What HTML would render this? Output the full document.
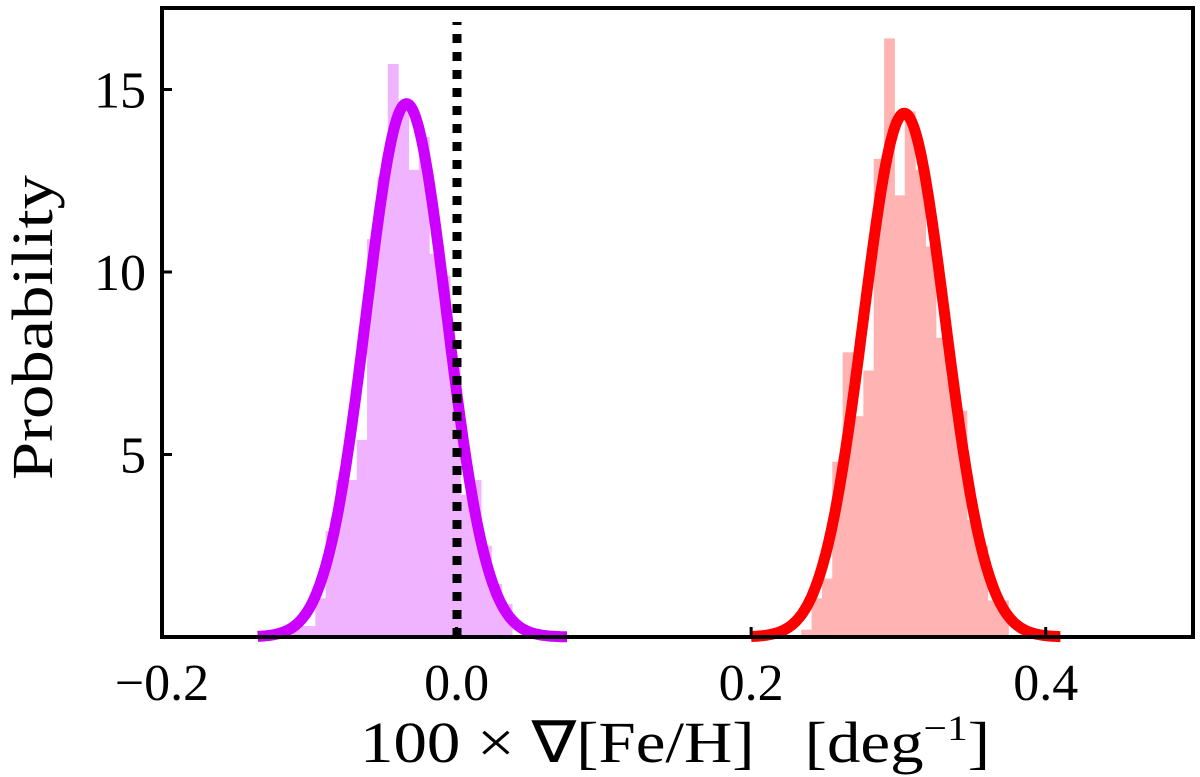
<!DOCTYPE html>
<html><head><meta charset="utf-8"><style>
html,body{margin:0;padding:0;background:#fff;}
svg{display:block;font-family:"Liberation Serif",serif;}
</style></head><body>
<svg id="chart" width="1200" height="777" viewBox="0 0 1200 777" xmlns="http://www.w3.org/2000/svg">
<g id="bars"></g>
<g id="curves"></g>
<line x1="457" y1="637" x2="457" y2="22" stroke="#000" stroke-width="9" stroke-dasharray="9 9"/>
<rect x="162" y="8" width="1031" height="629" fill="none" stroke="#000" stroke-width="4"/>
<g id="ticks"></g>
<text x="360" y="762" font-size="58" textLength="630" lengthAdjust="spacingAndGlyphs" xml:space="preserve">100 × ∇[Fe/H]   [deg<tspan dy="-22" font-size="36">−1</tspan><tspan dy="22">]</tspan></text>
<text transform="translate(52,480) rotate(-90)" x="0" y="0" font-size="58" textLength="305" lengthAdjust="spacingAndGlyphs">Probability</text>
<g id="ticklabels"></g>
</svg>
<script>
const xTicks = [-0.2, 0.0, 0.2, 0.4];
const xTickLabels = ["−0.2", "0.0", "0.2", "0.4"];
const yTicks = [5, 10, 15];
const yTickLabels = ["5", "10", "15"];
const binWidth = 0.00703;
const magentaStart = -0.117;
const magentaHeights = [0.3,0.3,0.3,1.06,2.9,4.3,4.3,5.4,10.9,12.6,15.7,14.6,12.8,13.7,10.5,9.9,7.5,3.9,4.3,2.5,1.45,0.9];
const redStart = 0.234;
const redHeights = [0.2,1.06,1.6,4.8,7.8,6.05,7.3,13.1,16.4,12.1,14.4,12.8,10.7,8.2,7.1,6.2,3.2,2.5,1.0,1.0];
const fitMeans = [-0.034, 0.304];
const fitSigmas = [0.0273, 0.0278];
const fitColors = ["#cc00ff", "#ff0000"];
const fitRanges = [[-0.135, 0.075], [0.2, 0.41]];

const X0 = 162, X1 = 1193, XMIN = -0.2, XMAX = 0.5;
const Y0 = 637, YSCALE = 36.5;
const sx = v => X0 + (v - XMIN) / (XMAX - XMIN) * (X1 - X0);
const sy = v => Y0 - v * YSCALE;
const NS = "http://www.w3.org/2000/svg";
function mk(tag, attrs, parent){const e=document.createElementNS(NS,tag);for(const k in attrs)e.setAttribute(k,attrs[k]);parent.appendChild(e);return e;}

const bars = document.getElementById('bars');
function drawHist(start, heights, color, nm){
  heights.forEach((h,i)=>{
    const a = start + i*binWidth, b = a + binWidth;
    const r = mk('rect',{x:sx(a),y:sy(h),width:sx(b)-sx(a)+0.5,height:sy(0)-sy(h),fill:color},bars);
    
    
  });
}
drawHist(magentaStart, magentaHeights, "#efb3ff", "magenta-hist");
drawHist(redStart, redHeights, "#ffb3b3", "red-hist");

const curves = document.getElementById('curves');
fitMeans.forEach((mu,k)=>{
  const s = fitSigmas[k];
  let d = "";
  const [a,b] = fitRanges[k];
  for(let i=0;i<=200;i++){
    const x = a + (b-a)*i/200;
    const y = Math.exp(-0.5*((x-mu)/s)**2)/(s*Math.sqrt(2*Math.PI));
    d += (i?"L":"M") + sx(x).toFixed(1) + "," + sy(y).toFixed(1);
  }
  const p = mk('path',{d:d,fill:"none",stroke:fitColors[k],"stroke-width":11,"stroke-linejoin":"round"},curves);
  
  
});

const ticks = document.getElementById('ticks');
const tl = document.getElementById('ticklabels');
xTicks.forEach((v,i)=>{
  const l = mk('line',{x1:sx(v),x2:sx(v),y1:Y0,y2:Y0-10,stroke:"#000","stroke-width":3},ticks);
  
  
  const t = mk('text',{x:sx(v),y:700,"font-size":52,"text-anchor":"middle"},tl);
  t.textContent = xTickLabels[i];
  
  
});
yTicks.forEach((v,i)=>{
  const l = mk('line',{x1:X0,x2:X0+10,y1:sy(v),y2:sy(v),stroke:"#000","stroke-width":3},ticks);
  
  
  const t = mk('text',{x:146,y:sy(v)+18,"font-size":52,"text-anchor":"end"},tl);
  t.textContent = yTickLabels[i];
  
  
});
</script>
</body></html>
